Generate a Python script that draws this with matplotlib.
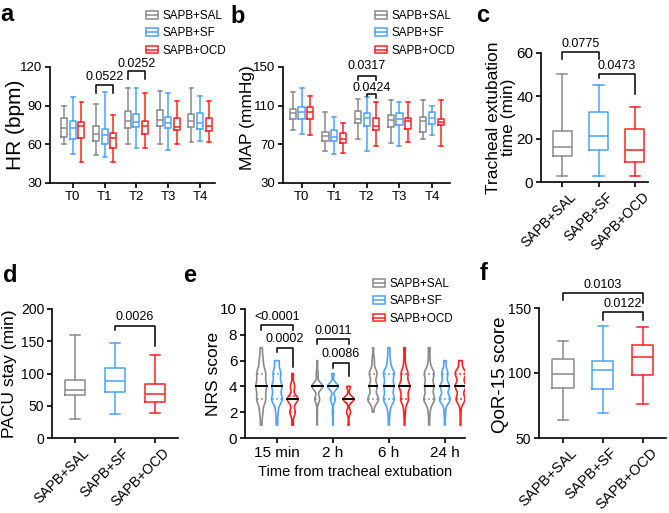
import numpy as np
import matplotlib
matplotlib.use('Agg')
import matplotlib.pyplot as plt
import matplotlib.transforms as mtrans
from matplotlib.patches import Rectangle
from matplotlib.lines import Line2D
from matplotlib.legend_handler import HandlerTuple

plt.rcParams['font.family'] = ['Liberation Sans', 'DejaVu Sans']

groups = ['SAPB+SAL', 'SAPB+SF', 'SAPB+OCD']
colors = ['#8a8a8a', '#4da3ff', '#ff2222']

# box stats: [whisker low, Q1, median, Q3, whisker high]
times = ['T0', 'T1', 'T2', 'T3', 'T4']
hr_sal = [[60, 66, 72.5, 80.5, 90], [51.5, 62.5, 68, 74, 91.5], [60, 72.5, 78, 85.5, 103.5],
          [60.5, 74, 78.5, 86.5, 101], [62, 73.5, 78, 83.5, 103.5]]
hr_sf = [[52.5, 64, 72.5, 78, 97], [50.5, 60, 67, 72, 100.5], [57.5, 73.5, 77, 83.5, 103.5],
         [55.5, 72.5, 76.5, 81, 99.5], [62.5, 72, 76.5, 84, 97.5]]
hr_ocd = [[46.5, 65, 74, 77, 93], [46.5, 57, 65, 68.5, 82.5], [57.5, 68, 74, 78, 100],
          [60, 71, 73.5, 80.5, 94], [61.5, 70.5, 74, 80.5, 94]]

map_sal = [[85, 96.5, 102, 106.5, 124], [63, 73, 78.5, 82.5, 103], [75.5, 92, 96, 104, 117],
           [71, 87.5, 95.5, 100.5, 115.5], [75.5, 83, 94.5, 98, 116]]
map_sf = [[81, 96, 103.5, 109, 128], [59.5, 73, 77.5, 84.5, 98], [63.5, 89, 97.5, 102, 118.5],
          [68.5, 90, 96, 102, 113.5], [80, 91, 97.5, 103.5, 110]]
map_ocd = [[80, 96, 103, 109, 119.5], [61.5, 71, 75.5, 81.5, 92], [68.5, 84.5, 88.5, 97, 113.5],
           [72, 86, 94.5, 97.5, 113.5], [68.5, 89.5, 93.5, 96, 116]]

extub = [[3, 12.3, 16.2, 23.9, 50.2], [3, 15, 21.4, 32.4, 45.2], [3, 9.4, 15.1, 24.8, 35.1]]
pacu = [[29, 66, 73.8, 90.4, 160], [37, 71, 87.8, 108.6, 148], [38, 56, 67.5, 83.6, 128]]
qor = [[64, 88.7, 99.5, 111, 124.5], [69, 87.6, 102, 109.3, 136.3], [76, 98.7, 112.6, 121.9, 135.6]]

# NRS: number of patients at score 1..7
nrs_times = ['15 min', '2 h', '6 h', '24 h']
scores = np.arange(1, 8)
nrs_sal = [[2, 4, 12, 14, 12, 5, 3], [1, 1, 10, 22, 4, 2, 0], [0, 2, 14, 10, 10, 3, 1], [1, 2, 12, 10, 11, 2, 2]]
nrs_sf = [[2, 3, 14, 13, 10, 6, 0], [1, 2, 10, 22, 5, 0, 0], [1, 2, 11, 10, 11, 3, 2], [1, 2, 14, 12, 8, 3, 0]]
nrs_ocd = [[3, 9, 18, 7, 3, 0, 0], [2, 8, 22, 8, 0, 0, 0], [1, 2, 10, 14, 9, 2, 2], [1, 1, 10, 12, 12, 4, 0]]

fig = plt.figure(figsize=(6.69, 5.13), dpi=100)
W, H = 669, 513


def axes_px(l, t, r, b):
    return fig.add_axes([l / W, 1 - b / H, (r - l) / W, (b - t) / H])


def style(ax, size):
    for s in ['top', 'right']:
        ax.spines[s].set_visible(False)
    for s in ['left', 'bottom']:
        ax.spines[s].set_linewidth(1.2)
    ax.tick_params(width=1.2, length=3.5, labelsize=size, pad=2)


def boxes(ax, rows, pos, color, w, cw):
    st = [dict(whislo=r[0], q1=r[1], med=r[2], q3=r[3], whishi=r[4], fliers=[]) for r in rows]
    p = dict(color=color, lw=1.1)
    ax.bxp(st, positions=pos, widths=w, capwidths=cw, showfliers=False, manage_ticks=False,
           boxprops=p, whiskerprops=p, capprops=p, medianprops=p)


def bracket(ax, x1, x2, y, y1, y2, txt, ty):
    ax.plot([x1, x1, x2, x2], [y1, y, y, y2], color='k', lw=1.1, clip_on=False)
    ax.text((x1 + x2) / 2, ty, txt, ha='center', va='center', fontsize=9, clip_on=False)


def legend(ax, x, y):
    hs = [(Rectangle((0, 0), 1, 1, fc='none', ec=c, lw=1.1), Line2D([], [], color=c, lw=1.1)) for c in colors]
    ax.legend(hs, groups, handler_map={tuple: HandlerTuple(ndivide=1)}, loc='upper left',
              bbox_to_anchor=(x / W, 1 - y / H), bbox_transform=fig.transFigure, frameon=False,
              fontsize=8.4, handlelength=1.0, handleheight=0.6, handletextpad=0.4,
              labelspacing=0.45, borderpad=0, borderaxespad=0)


def cat_labels(ax, size):
    ax.set_xticks(range(3))
    ax.set_xticklabels(groups, rotation=45, ha='right', va='top', rotation_mode='anchor', fontsize=size)
    off = mtrans.ScaledTranslation(7 / 100, 0, fig.dpi_scale_trans)
    for lb in ax.get_xticklabels():
        lb.set_transform(lb.get_transform() + off)


off3 = [-0.27, 0, 0.27]

# a: HR
ax = axes_px(50, 67, 215, 183)
x = np.arange(len(times))
for d, c, o in zip([hr_sal, hr_sf, hr_ocd], colors, off3):
    boxes(ax, d, x + o, c, 0.19, 0.12)
ax.set_xlim(-0.72, 4.47)
ax.set_ylim(30, 120)
ax.set_yticks([30, 60, 90, 120])
ax.set_xticks(x)
ax.set_xticklabels(times)
style(ax, 9.5)
ax.set_ylabel('HR (bpm)', fontsize=15)
ax.yaxis.set_label_coords(-0.15, 0.5)
bracket(ax, 1 - 0.27, 1 + 0.27, 105.8, 99.5, 99.5, '0.0522', 112)
bracket(ax, 2 - 0.27, 2 + 0.27, 117, 111, 111, '0.0252', 122.6)
legend(ax, 146, 10)

# b: MAP
ax = axes_px(283, 67, 450, 183)
for d, c, o in zip([map_sal, map_sf, map_ocd], colors, off3):
    boxes(ax, d, x + o, c, 0.19, 0.12)
ax.set_xlim(-0.57, 4.55)
ax.set_ylim(30, 150)
ax.set_yticks([30, 70, 110, 150])
ax.set_xticks(x)
ax.set_xticklabels(times)
style(ax, 9.5)
ax.set_ylabel('MAP (mmHg)', fontsize=12.5)
ax.yaxis.set_label_coords(-0.17, 0.56)
bracket(ax, 2 - 0.27, 2 + 0.27, 140.7, 137, 137, '0.0317', 151)
bracket(ax, 2, 2 + 0.27, 122, 119.5, 118, '0.0424', 128.5)
legend(ax, 375, 10)

# c: tracheal extubation time
ax = axes_px(541, 53, 648, 182)
for i, (d, c) in enumerate(zip(extub, colors)):
    boxes(ax, [d], [i], c, 0.52, 0.28)
ax.set_xlim(-0.58, 2.36)
ax.set_ylim(0, 60)
ax.set_yticks([0, 20, 40, 60])
style(ax, 11)
cat_labels(ax, 10)
ax.set_ylabel('Tracheal extubation\ntime (min)', fontsize=12.5, linespacing=1.0)
ax.yaxis.set_label_coords(-0.23, 0.5)
bracket(ax, 0, 1, 60.3, 57.3, 57.3, '0.0775', 64.3)
bracket(ax, 1, 2, 50.2, 48.3, 40.8, '0.0473', 54)

# d: PACU stay
ax = axes_px(52, 309, 178, 438)
for i, (d, c) in enumerate(zip(pacu, colors)):
    boxes(ax, [d], [i], c, 0.5, 0.25)
ax.set_xlim(-0.58, 2.58)
ax.set_ylim(0, 200)
ax.set_yticks([0, 50, 100, 150, 200])
style(ax, 10)
cat_labels(ax, 10)
ax.set_ylabel('PACU stay (min)', fontsize=12.5)
ax.yaxis.set_label_coords(-0.28, 0.5)
bracket(ax, 1, 2, 173.5, 167, 142, '0.0026', 188)

# e: NRS violins
ax = axes_px(245, 309, 465, 438)
xe = np.arange(len(nrs_times))
offe = [-0.28, 0, 0.28]
for counts, c, o in zip([nrs_sal, nrs_sf, nrs_ocd], colors, offe):
    data = [np.repeat(scores, cnt) for cnt in counts]
    pos = xe + o
    vp = ax.violinplot(data, positions=pos, widths=0.19, showextrema=False, bw_method=0.3)
    for body, dd, p in zip(vp['bodies'], data, pos):
        body.set_alpha(1)
        body.set_facecolor('none')
        body.set_edgecolor(c)
        body.set_linewidth(1.2)
        v = body.get_paths()[0].vertices
        right = v[v[:, 0] >= p]
        order = np.argsort(right[:, 1])
        ys, hw = right[order, 1], right[order, 0] - p
        q1, med, q3 = np.percentile(dd, [25, 50, 75])
        for q in (q1, q3):
            w = np.interp(q, ys, hw)
            ax.plot([p - w, p + w], [q, q], color=c, lw=1.2, ls=(0, (1, 1.5)))
        w = np.interp(med, ys, hw)
        ax.plot([p - w, p + w], [med, med], color='k', lw=1.4)
ax.set_xlim(-0.57, 3.36)
ax.set_ylim(0, 10)
ax.set_yticks(range(0, 11, 2))
ax.set_xticks(xe)
ax.set_xticklabels(nrs_times)
style(ax, 11)
ax.set_ylabel('NRS score', fontsize=12.5)
ax.yaxis.set_label_coords(-0.11, 0.5)
ax.set_xlabel('Time from tracheal extubation', fontsize=10.5, labelpad=4)
bracket(ax, -0.28, 0.28, 8.78, 8.35, 8.35, '<0.0001', 9.4)
bracket(ax, 0, 0.28, 7.0, 6.7, 5.5, '0.0002', 7.65)
bracket(ax, 1 - 0.28, 1.28, 7.7, 7.3, 7.3, '0.0011', 8.3)
bracket(ax, 1, 1.28, 5.8, 5.45, 4.8, '0.0086', 6.5)
legend(ax, 373, 278)

# f: QoR-15
ax = axes_px(539, 308, 666, 438)
for i, (d, c) in enumerate(zip(qor, colors)):
    boxes(ax, [d], [i], c, 0.53, 0.27)
ax.set_xlim(-0.6, 2.58)
ax.set_ylim(50, 150)
ax.set_yticks([50, 100, 150])
style(ax, 10)
cat_labels(ax, 10.5)
ax.set_ylabel('QoR-15 score', fontsize=13.5)
ax.yaxis.set_label_coords(-0.24, 0.49)
bracket(ax, 0, 2, 161.6, 156, 153.6, '0.0103', 168)
bracket(ax, 1, 2, 146.6, 140.4, 140.4, '0.0122', 153.3)

for t, px, py in [('a', 0, 21), ('b', 230, 23), ('c', 476, 22), ('d', 3, 282), ('e', 183, 282), ('f', 480, 280)]:
    fig.text(px / W, 1 - py / H, t, fontsize=17, fontweight='bold', ha='left', va='baseline')

fig.savefig('out.png', dpi=100)
